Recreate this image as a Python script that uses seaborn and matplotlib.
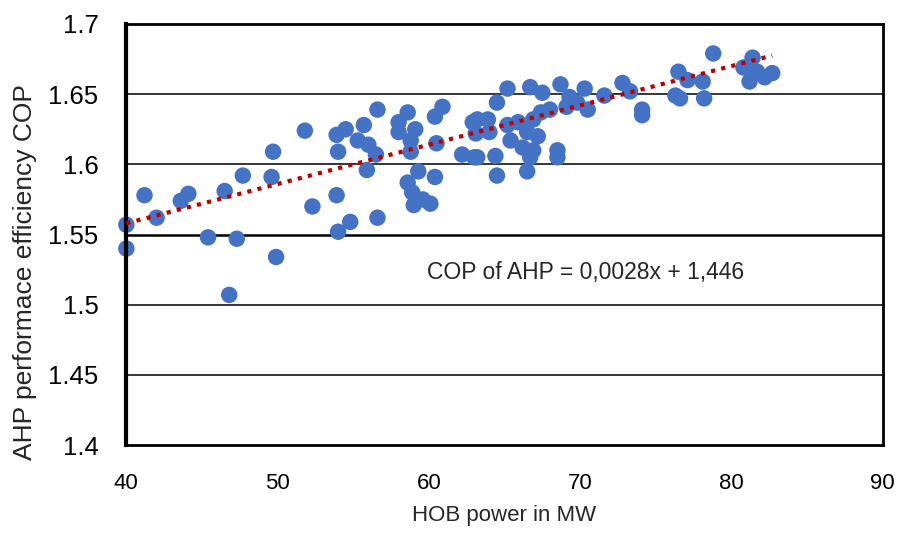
import numpy as np
import pandas as pd
import matplotlib
matplotlib.use("Agg")
import matplotlib.pyplot as plt
import seaborn as sns

# data
hob_power = [
    40.0, 40.0, 41.2, 42.0, 43.6, 44.1, 45.4, 46.5, 46.8, 47.3, 47.7, 49.7, 49.6, 49.9, 51.8, 52.3,
    56.6, 58.6, 60.9, 60.4, 62.9, 55.7, 54.5, 53.9, 58.0, 58.0, 59.1, 55.3, 56.0, 54.0, 56.5,
    58.8, 58.8, 60.5, 62.2, 63.0, 55.9, 59.3, 60.4, 58.6, 58.9, 59.6, 60.1, 59.0, 53.9, 54.8,
    54.0, 56.6,
    65.2, 66.7, 67.5, 68.7, 70.3, 71.6, 72.8, 64.5, 69.3, 69.1, 69.8, 70.5, 68.0, 67.4, 66.9,
    63.2, 63.9, 64.0, 63.1, 65.2, 65.9, 66.5, 65.4, 67.2, 66.2, 66.9, 66.7, 68.5, 68.5, 63.2,
    64.4, 64.5, 66.5,
    78.8, 81.4, 80.8, 81.7, 81.2, 82.2, 82.7, 76.5, 77.1, 78.1, 73.3, 76.3, 76.6, 78.2, 74.1,
    74.1,
]
cop = [
    1.557, 1.540, 1.578, 1.562, 1.574, 1.579, 1.548, 1.581, 1.507, 1.547, 1.592, 1.609, 1.591, 1.534, 1.624, 1.570,
    1.639, 1.637, 1.641, 1.634, 1.630, 1.628, 1.625, 1.621, 1.630, 1.623, 1.625, 1.617, 1.614, 1.609, 1.607,
    1.617, 1.609, 1.615, 1.607, 1.605, 1.596, 1.595, 1.591, 1.587, 1.580, 1.575, 1.572, 1.571, 1.578, 1.559,
    1.552, 1.562,
    1.654, 1.655, 1.651, 1.657, 1.654, 1.649, 1.658, 1.644, 1.648, 1.641, 1.644, 1.639, 1.639, 1.637, 1.632,
    1.632, 1.632, 1.623, 1.622, 1.628, 1.630, 1.623, 1.617, 1.620, 1.612, 1.610, 1.605, 1.610, 1.605, 1.605,
    1.606, 1.592, 1.595,
    1.679, 1.676, 1.669, 1.666, 1.659, 1.662, 1.665, 1.666, 1.660, 1.659, 1.652, 1.649, 1.647, 1.647, 1.639,
    1.635,
]

# trend line from the chart label
slope = 0.0028
intercept = 1.446

df = pd.DataFrame({"HOB": hob_power, "COP": cop})
trend_x = np.array([df["HOB"].min(), df["HOB"].max()])
trend = pd.DataFrame({"HOB": trend_x, "COP": slope * trend_x + intercept})

sns.set_style("white")
plt.rcParams["font.family"] = ["Liberation Sans", "DejaVu Sans"]

fig, ax = plt.subplots(figsize=(9.09, 5.33), dpi=100)
fig.subplots_adjust(left=0.139, right=0.971, top=0.955, bottom=0.165)

# horizontal gridlines (the 1.55 one is drawn heavier in the original)
for yv in [1.45, 1.5, 1.55, 1.6, 1.65]:
    ax.axhline(yv, color="black", lw=1.8 if yv == 1.55 else 1.1, zorder=0)

sns.scatterplot(data=df, x="HOB", y="COP", color="#4472C4", s=140,
                edgecolor="none", linewidth=0, ax=ax, zorder=2, clip_on=False)
sns.lineplot(data=trend, x="HOB", y="COP", color="#C00000", lw=3,
             linestyle=(0, (1, 1.5)), ax=ax, zorder=3)
ax.lines[-1].set_dash_capstyle("butt")

ax.set_xlim(40, 90)
ax.set_ylim(1.4, 1.7)
ax.set_xticks([40, 50, 60, 70, 80, 90])
ax.set_yticks([1.4, 1.45, 1.5, 1.55, 1.6, 1.65, 1.7])
ax.set_yticklabels(["1.4", "1.45", "1.5", "1.55", "1.6", "1.65", "1.7"])

for lab in ax.get_xticklabels():
    lab.set_fontsize(16)
for lab in ax.get_yticklabels():
    lab.set_fontsize(18.5)
ax.tick_params(axis="both", length=0, pad=20, colors="black")

ax.set_xlabel("HOB power in MW", fontsize=16, labelpad=8)
ax.set_ylabel("AHP performace efficiency COP", fontsize=19)
ax.yaxis.set_label_coords(-0.118, 0.41)

ax.text(0.398, 0.41, "COP of AHP = 0,0028x + 1,446", transform=ax.transAxes,
        fontsize=16.5, ha="left", va="center")

for side in ["left", "right", "top", "bottom"]:
    ax.spines[side].set_visible(True)
    ax.spines[side].set_color("black")
    ax.spines[side].set_linewidth(2)
ax.spines["left"].set_linewidth(3)

fig.savefig("out.png", dpi=100)
